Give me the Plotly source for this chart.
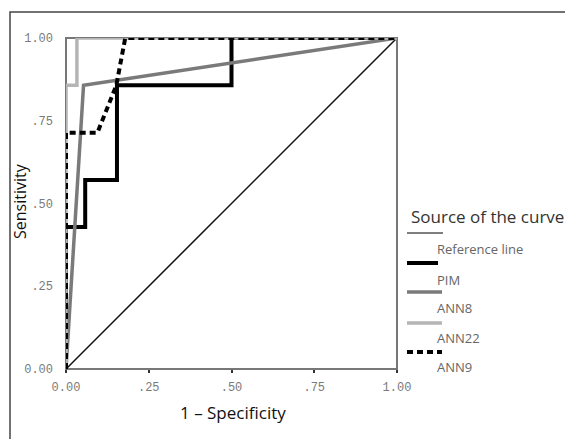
import plotly.graph_objects as go

# ---- data ----
ref_x = [0.0, 1.0]
ref_y = [0.0, 1.0]

pim_x = [0.0, 0.0, 0.058, 0.058, 0.154, 0.154, 0.5, 0.5, 1.0]
pim_y = [0.0, 0.429, 0.429, 0.571, 0.571, 0.857, 0.857, 1.0, 1.0]

ann8_x = [0.0, 0.053, 1.0]
ann8_y = [0.0, 0.857, 1.0]

ann22_x = [0.0, 0.0, 0.033, 0.033, 1.0]
ann22_y = [0.0, 0.857, 0.857, 1.0, 1.0]

ann9_x = [0.0, 0.0, 0.095, 0.152, 0.179, 1.0]
ann9_y = [0.0, 0.714, 0.714, 0.857, 1.0, 1.0]

tick_vals = [0.0, 0.25, 0.5, 0.75, 1.0]
tick_text = ["0.00", ".25", ".50", ".75", "1.00"]

legend_names = ["Reference line", "PIM", "ANN8", "ANN22", "ANN9"]
legend_title = "Source of the curve"

# ---- figure ----
OFF = 8  # default page body margin
W, H = 573 - OFF, 439 - OFF
L, R, T, B = 66 - OFF, 397 - OFF, 38 - OFF, 369 - OFF  # plot area pixel bounds within figure


def px(x):
    return (x - OFF - L) / (R - L)


def py(y):
    return (B - (y - OFF)) / (B - T)


styles = [
    dict(color="#111111", width=1.5, dash="solid"),
    dict(color="#000000", width=4, dash="solid"),
    dict(color="#7a7a7a", width=3.5, dash="solid"),
    dict(color="#b5b5b5", width=3.5, dash="solid"),
    dict(color="#000000", width=4, dash="6px,4px"),
]

fig = go.Figure()
series = [(ref_x, ref_y), (pim_x, pim_y), (ann8_x, ann8_y), (ann22_x, ann22_y), (ann9_x, ann9_y)]
for i in range(5):
    xs, ys = series[i]
    fig.add_trace(go.Scatter(x=xs, y=ys, mode="lines", name=legend_names[i],
                             line=styles[i], cliponaxis=False, showlegend=False,
                             hoverinfo="skip"))

tickfont = dict(family="Liberation Mono, DejaVu Sans Mono, monospace", size=12, color="#7a7a7a")
sans = "Open Sans, Lato, sans-serif"

fig.update_layout(
    width=W, height=H,
    margin=dict(l=L, r=W - R, t=T, b=H - B, pad=0),
    paper_bgcolor="white", plot_bgcolor="white",
    showlegend=False,
    xaxis=dict(range=[0, 1], tickvals=tick_vals, ticktext=tick_text, showgrid=False,
               zeroline=False, showline=False, ticks="outside", ticklen=3,
               tickcolor="#333333", tickwidth=2, tickfont=tickfont, ticklabelstandoff=4,
               fixedrange=True),
    yaxis=dict(range=[0, 1], tickvals=tick_vals, ticktext=tick_text, showgrid=False,
               zeroline=False, showline=False, ticks="", tickfont=tickfont,
               ticklabelstandoff=12, fixedrange=True),
)

shapes = []
# plot frame
shapes.append(dict(type="rect", xref="paper", yref="paper", x0=0, x1=1, y0=0, y1=1,
                   line=dict(color="#777777", width=2), layer="below"))
# outer chart border (extends beyond the visible crop)
shapes.append(dict(type="rect", xref="paper", yref="paper", x0=px(10), x1=px(640),
                   y0=py(500), y1=py(12), line=dict(color="#444444", width=1.5)))

annotations = []
annotations.append(dict(text="1 – Specificity", xref="paper", yref="paper",
                        x=px(233), y=py(412), showarrow=False,
                        font=dict(family=sans, size=17, color="#111111"),
                        xanchor="center", yanchor="middle"))
annotations.append(dict(text="Sensitivity", xref="paper", yref="paper",
                        x=px(20), y=py(201), showarrow=False, textangle=-90,
                        font=dict(family=sans, size=16, color="#111111"),
                        xanchor="center", yanchor="middle"))
annotations.append(dict(text=legend_title, xref="paper", yref="paper",
                        x=px(409), y=py(216), showarrow=False,
                        font=dict(family=sans, size=17, color="#333333"),
                        xanchor="left", yanchor="middle"))

sample_y = [233, 263, 292, 323, 352]
sample_x1 = [443, 438, 442, 442, 442]
label_y = [249, 280, 308, 338, 367]
for i in range(5):
    st = styles[i]
    shapes.append(dict(type="line", xref="paper", yref="paper",
                       x0=px(407), x1=px(sample_x1[i]), y0=py(sample_y[i]), y1=py(sample_y[i]),
                       line=dict(color=st["color"] if i != 0 else "#555555",
                                 width=st["width"] if i != 0 else 1.5,
                                 dash=st["dash"])))
    annotations.append(dict(text=legend_names[i], xref="paper", yref="paper",
                            x=px(435), y=py(label_y[i]), showarrow=False,
                            font=dict(family=sans, size=13, color="#666666"),
                            xanchor="left", yanchor="middle"))

fig.update_layout(shapes=shapes, annotations=annotations)
fig.write_html("out.html")
